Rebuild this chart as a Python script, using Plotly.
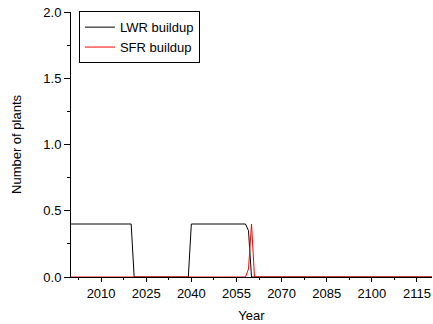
import plotly.graph_objects as go

years = list(range(2000, 2121))

# LWR buildup: 0.4 through 2020, 0 2021-2039, 0.4 2040-2058, 0.35 in 2059, 0 after
lwr_points = {}
for y in years:
    if y <= 2020:
        lwr_points[y] = 0.4
    elif y <= 2039:
        lwr_points[y] = 0.0
    elif y <= 2058:
        lwr_points[y] = 0.4
    elif y == 2059:
        lwr_points[y] = 0.35
    else:
        lwr_points[y] = 0.0
lwr_values = [lwr_points[y] for y in years]

sfr_special = {2059: 0.06, 2060: 0.4}
sfr_values = [sfr_special.get(y, 0.0) for y in years]

fig = go.Figure()
fig.add_trace(go.Scatter(x=years, y=lwr_values, mode="lines", name="LWR buildup",
                         line=dict(color="black", width=1)))
fig.add_trace(go.Scatter(x=years, y=sfr_values, mode="lines", name="SFR buildup",
                         line=dict(color="red", width=1)))

fam = "Liberation Sans, Arial, sans-serif"
font = dict(family=fam, size=13, color="black")

fig.update_layout(
    width=433, height=324,
    margin=dict(l=71, r=1, t=12, b=47),
    paper_bgcolor="white", plot_bgcolor="white",
    font=font,
    showlegend=True,
    legend=dict(x=0.022, y=1.003, xanchor="left", yanchor="top",
                bordercolor="black", borderwidth=1, bgcolor="white",
                font=dict(family=fam, size=13),
                tracegroupgap=0, itemwidth=30),
    xaxis=dict(range=[2000, 2120], tick0=2010, dtick=15, ticks="outside", ticklen=4,
               tickcolor="black", showline=True, linecolor="black", linewidth=1,
               showgrid=False, zeroline=False, layer="below traces", automargin=False,
               ticklabeloverflow="allow",
               minor=dict(ticks="outside", ticklen=2, tickcolor="black", dtick=7.5, tick0=2002.5),
               title=dict(text="Year", font=dict(size=13), standoff=11),
               tickfont=dict(size=13)),
    yaxis=dict(range=[0, 2], tick0=0, dtick=0.5, ticks="outside", ticklen=6,
               tickcolor="black", showline=True, linecolor="black", linewidth=1,
               showgrid=False, zeroline=False, tickformat=".1f", automargin=False,
               ticklabeloverflow="allow",
               minor=dict(ticks="outside", ticklen=3, tickcolor="black", dtick=0.25),
               title=dict(text="Number of plants", font=dict(size=13), standoff=18),
               tickfont=dict(size=13)),
)

# remove the default 8px page margin so the figure fills the window exactly
fig.write_html("out.html", config={"displayModeBar": False},
               post_script="document.body.style.margin='0';")
